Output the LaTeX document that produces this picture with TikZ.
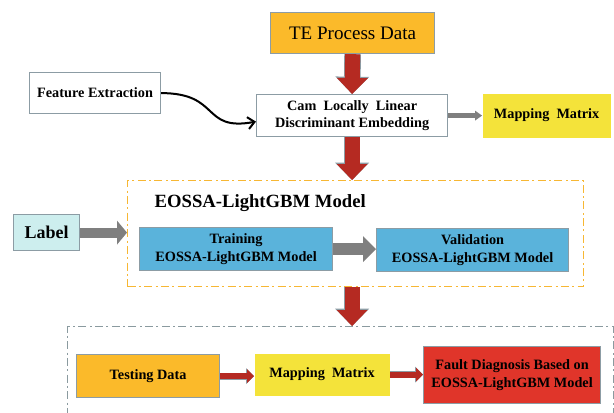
\documentclass[tikz,border=0pt]{standalone}
\usepackage{fontspec}
\newfontfamily\termsfont{Liberation Serif}
\usetikzlibrary{arrows.meta}

\definecolor{teorange}{HTML}{FBBA2A}
\definecolor{mapyellow}{HTML}{F4E33A}
\definecolor{trainblue}{HTML}{5AB3DB}
\definecolor{labelcyan}{HTML}{CDEEEE}
\definecolor{faultred}{HTML}{E0352A}
\definecolor{arrowred}{HTML}{B52A22}
\definecolor{arrowgray}{HTML}{7F7F7F}
\definecolor{boxgray}{HTML}{8C9CA4}
\definecolor{frameorange}{HTML}{F7B733}
\definecolor{framegray}{HTML}{8A9A9F}

\begin{document}
\begin{tikzpicture}[x=0.75pt, y=-0.75pt,
    sz/.style 2 args={minimum width=#1*0.75pt, minimum height=#2*0.75pt},
    box/.style={rectangle, draw=boxgray, line width=0.9pt, inner sep=0pt, align=center,
        below right, font=\termsfont\fontsize{10.7}{13}\selectfont\bfseries},
    frame/.style={rectangle, line width=0.8pt, inner sep=0pt, below right,
        dash pattern=on 6pt off 2.5pt on 1.5pt off 2.5pt},
    bigred/.style={draw=arrowred, line width=11.25pt,
        -{Triangle[width=23.25pt,length=12pt,line width=0pt]},
        preaction={draw=boxgray, line width=12.5pt, -{Triangle[width=25.5pt,length=13pt,line width=0pt]}}},
    thinred/.style={draw=arrowred, line width=4.5pt,
        -{Triangle[width=10.5pt,length=5.25pt,line width=0pt]},
        preaction={draw=boxgray, line width=5.3pt, -{Triangle[width=12pt,length=6pt,line width=0pt]}}},
    grayarrow/.style n args={3}{draw=arrowgray, line width=#1,
        -{Triangle[width=#2,length=#3,line width=0pt]}}]
      \useasboundingbox (0,0) rectangle (614,412);
    %  \draw[help lines, step=20] (0,0) grid (614,412);

      \node [box, fill=teorange, sz={164}{41}, font=\termsfont\fontsize{14.3}{17}\selectfont] (te) at (270,12) {TE Process Data};
      \node [box, fill=white, sz={131}{41}] (feat) at (29,72) {Feature Extraction};
      \node [box, fill=white, sz={191}{42}] (cam) at (256,94) {Cam\ \ Locally\ \ Linear\\Discriminant Embedding};
      \node [box, draw=none, fill=mapyellow, sz={128}{44}] (mapa) at (482,93) {Mapping\ \ Matrix};

      \node [frame, draw=frameorange, sz={456}{106}] (model) at (127,180) {};
      \node [anchor=west, font=\termsfont\fontsize{14}{17}\selectfont\bfseries] (title) at (150,203) {EOSSA-LightGBM Model};
      \node [box, fill=labelcyan, sz={66}{36}, font=\termsfont\fontsize{13.5}{16}\selectfont\bfseries] (label) at (13,214) {Label};
      \node [box, fill=trainblue, sz={193}{43}] (train) at (139,227) {Training\\EOSSA-LightGBM Model};
      \node [box, fill=trainblue, sz={192}{43}] (valid) at (376,228) {Validation\\EOSSA-LightGBM Model};

      \node [frame, draw=framegray, sz={546}{110}] (testframe) at (67,326) {};
      \node [box, fill=teorange, sz={143}{43}] (test) at (76,354) {Testing Data};
      \node [box, draw=none, fill=mapyellow, sz={135}{42}] (mapb) at (254,353) {Mapping\ \ Matrix};
      \node [box, fill=faultred, sz={177}{57}] (fault) at (423,346) {Fault Diagnosis Based on\\EOSSA-LightGBM Model};


      \draw [bigred] (te.south) -- (cam.north);
      \draw [bigred] (cam.south) -- (cam.south |- model.north);
      \draw [bigred] (cam.south |- model.south) -- (cam.south |- testframe.north);

      \draw [line width=1.5pt, -{Straight Barb[length=5pt,width=9pt]}] (feat.east) .. controls +(60,0) and +(-55,10) .. ([yshift=-4.5pt]cam.west);
      \draw [grayarrow={3.75pt}{7.5pt}{5.25pt}] (cam.east) -- (mapa.west);
      \draw [grayarrow={7.5pt}{18pt}{7.5pt}] (label.east) -- (label.east -| model.west);
      \draw [grayarrow={9pt}{19.5pt}{9.75pt}] (train.east) -- (train.east -| valid.west);

      \draw [thinred] (test.east) -- (test.east -| mapb.west);
      \draw [thinred] (mapb.east) -- (mapb.east -| fault.west);

    \end{tikzpicture}
\end{document}
